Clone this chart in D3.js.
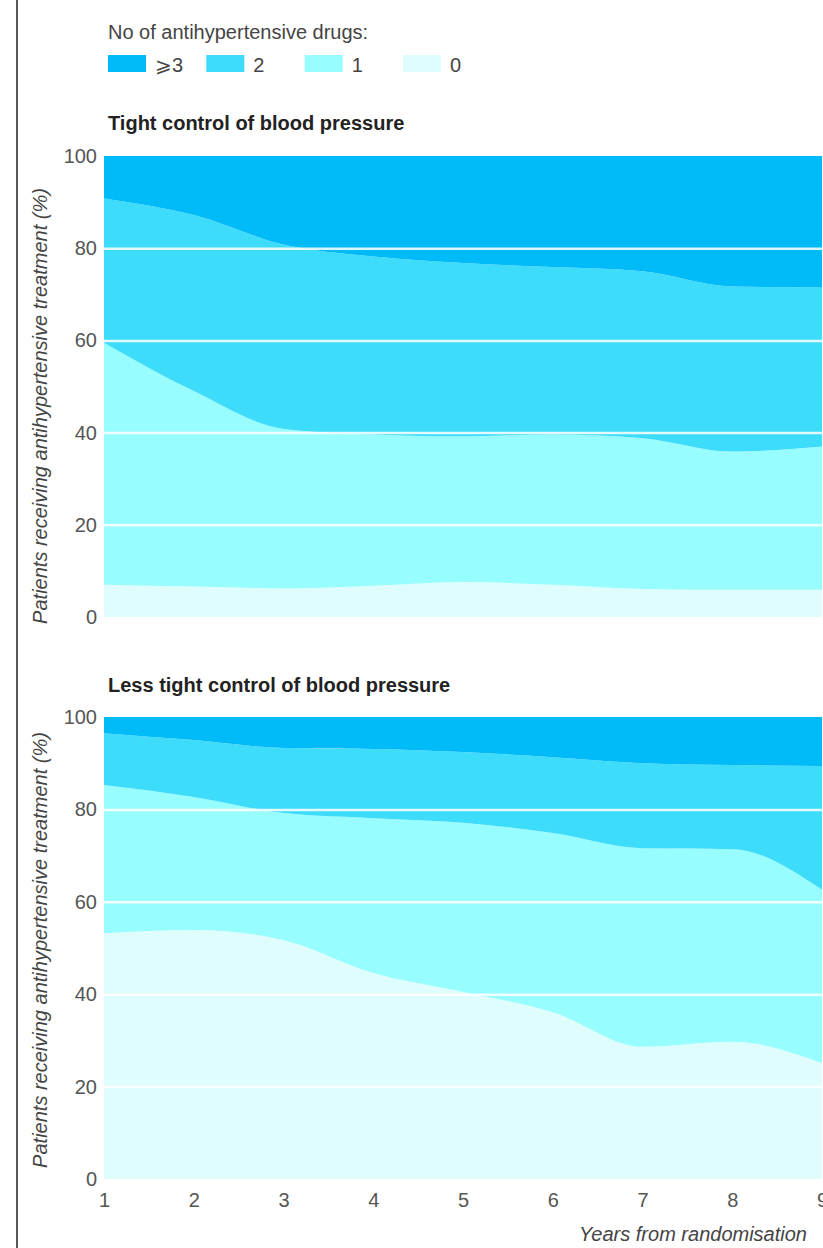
<!DOCTYPE html>
<html>
<head>
<meta charset="utf-8">
<script src="https://cdn.jsdelivr.net/npm/d3@7"></script>
<style>
  html, body { margin: 0; padding: 0; background: #ffffff; }
  svg { display: block; }
  text { font-family: "Liberation Sans", Arial, Helvetica, sans-serif; }
</style>
</head>
<body>
<script>
// Years of follow-up
const years = [1, 2, 3, 4, 5, 6, 7, 8, 9];

// Number of drugs categories (legend order) and their fills
const drugKeys = ["3+", "2", "1", "0"];
const drugLabels = ["\u2A7E3", "2", "1", "0"];
const drugColors = ["#00bbf7", "#3ddcfb", "#98fdfe", "#e0fdfe"];

// Tight control: % of patients on each number of drugs, by year
const tight0 = [7.0, 6.6, 6.2, 6.8, 7.6, 7.0, 6.1, 5.9, 5.9];
const tight1 = [52.5, 42.4, 34.6, 32.8, 31.6, 32.6, 32.7, 30.0, 31.1];
const tight2 = [31.3, 38.2, 40.0, 38.6, 37.6, 36.3, 36.2, 35.8, 34.5];
const tight3 = [9.2, 12.8, 19.2, 21.8, 23.2, 24.1, 25.0, 28.3, 28.5];

// Less tight control
const less0 = [53.2, 53.9, 51.7, 44.6, 40.5, 36.1, 28.6, 29.7, 25.1];
const less1 = [32.1, 28.8, 27.5, 33.5, 36.6, 38.8, 43.0, 41.7, 37.5];
const less2 = [11.2, 12.3, 14.1, 15.0, 15.3, 16.4, 18.4, 18.2, 26.8];
const less3 = [3.5, 5.0, 6.7, 6.9, 7.6, 8.7, 10.0, 10.4, 10.6];

// Axis ticks
const yTicks = [0, 20, 40, 60, 80, 100];
const xTicks = [1, 2, 3, 4, 5, 6, 7, 8, 9];

const W = 823, H = 1248;
const svg = d3.select("body").append("svg").attr("width", W).attr("height", H);

// Rule down the left margin
svg.append("line")
  .attr("x1", 17).attr("x2", 17).attr("y1", 0).attr("y2", H)
  .attr("stroke", "#555").attr("stroke-width", 2);

// Legend
svg.append("text").attr("x", 108).attr("y", 39)
  .attr("font-size", 20).attr("fill", "#444")
  .text("No of antihypertensive drugs:");

const legendX = d3.scalePoint().domain(drugKeys).range([108, 403]);
const legend = svg.append("g").selectAll("g").data(drugKeys).join("g")
  .attr("transform", d => `translate(${legendX(d)},0)`);
legend.append("rect").attr("x", 0).attr("y", 55).attr("width", 38).attr("height", 17)
  .attr("fill", (d, i) => drugColors[i]);
legend.append("text").attr("x", 47).attr("y", 72)
  .attr("font-size", 20).attr("fill", "#444")
  .text((d, i) => drugLabels[i]);

const x = d3.scaleLinear().domain([1, 9]).range([104, 822]);
const color = d3.scaleOrdinal().domain(drugKeys).range(drugColors);

function drawPanel(cfg) {
  const y = d3.scaleLinear().domain([0, 100]).range([cfg.bottom, cfg.top]);
  const rows = years.map((yr, i) => ({
    year: yr,
    "0": cfg.s0[i], "1": cfg.s1[i], "2": cfg.s2[i], "3+": cfg.s3[i]
  }));
  const stack = d3.stack().keys(["0", "1", "2", "3+"]);
  const series = stack(rows);

  const area = d3.area()
    .curve(d3.curveMonotoneX)
    .x(d => x(d.data.year))
    .y0(d => y(d[0]))
    .y1(d => y(d[1]));

  const g = svg.append("g");
  g.selectAll("path.band").data(series).join("path")
    .attr("class", "band")
    .attr("d", area)
    .attr("fill", d => color(d.key));

  // White gridlines over the bands
  g.append("g")
    .attr("transform", `translate(${x(1)},0)`)
    .call(d3.axisLeft(y).tickValues([20, 40, 60, 80]).tickSize(-(W - x(1))).tickFormat(""))
    .call(a => a.select(".domain").remove())
    .call(a => a.selectAll(".tick line").attr("stroke", "#ffffff").attr("stroke-width", 2.5).attr("stroke-opacity", 0.85));

  // Y tick labels
  g.append("g")
    .attr("transform", `translate(${x(1)},0)`)
    .call(d3.axisLeft(y).tickValues(yTicks).tickSize(0).tickPadding(7))
    .call(a => a.select(".domain").remove())
    .call(a => a.selectAll("text")
      .attr("font-size", 20).attr("fill", "#555")
      .attr("font-family", "'Liberation Sans', Arial, sans-serif"));

  // Panel title
  svg.append("text").attr("x", 108).attr("y", cfg.titleY)
    .attr("font-size", 20).attr("font-weight", "bold").attr("fill", "#222")
    .text(cfg.title);

  // Y axis title
  svg.append("text")
    .attr("transform", `translate(47,${cfg.labelY}) rotate(-90)`)
    .attr("text-anchor", "middle")
    .attr("font-size", 20).attr("font-style", "italic").attr("fill", "#444")
    .text("Patients receiving antihypertensive treatment (%)");

  return y;
}

drawPanel({
  top: 156, bottom: 617, titleY: 130, labelY: 406,
  title: "Tight control of blood pressure",
  s0: tight0, s1: tight1, s2: tight2, s3: tight3
});

const yLow = drawPanel({
  top: 717, bottom: 1179, titleY: 692, labelY: 950,
  title: "Less tight control of blood pressure",
  s0: less0, s1: less1, s2: less2, s3: less3
});

// X axis (shared years)
svg.append("g")
  .attr("transform", `translate(0,${yLow(0)})`)
  .call(d3.axisBottom(x).tickValues(xTicks).tickFormat(d3.format("d")).tickSize(0).tickPadding(14))
  .call(a => a.select(".domain").remove())
  .call(a => a.selectAll("text")
    .attr("font-size", 20).attr("fill", "#555")
    .attr("font-family", "'Liberation Sans', Arial, sans-serif"));

svg.append("text")
  .attr("x", 807).attr("y", 1241)
  .attr("text-anchor", "end")
  .attr("font-size", 20).attr("font-style", "italic").attr("fill", "#444")
  .text("Years from randomisation");
</script>
</body>
</html>
